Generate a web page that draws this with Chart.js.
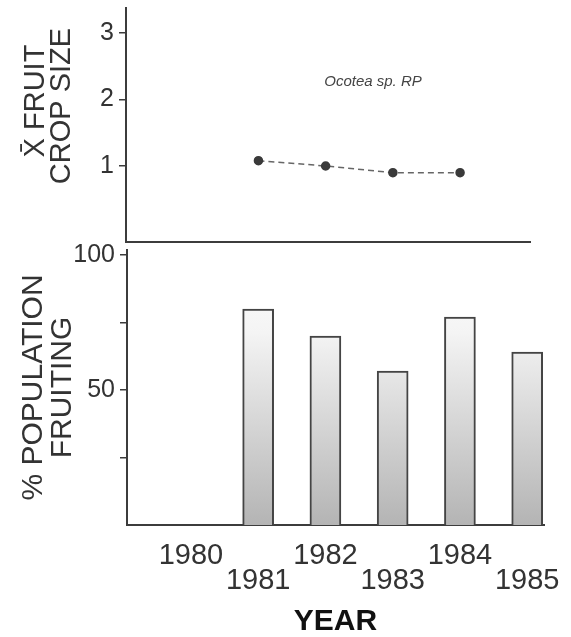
<!DOCTYPE html>
<html>
<head>
<meta charset="utf-8">
<script src="https://cdn.jsdelivr.net/npm/chart.js@4.4.1/dist/chart.umd.min.js"></script>
<style>
    html, body { margin: 0; padding: 0; background: #fff; }
    #wrap { position: relative; width: 571px; height: 637px; }
    #topBox { position: absolute; left: 0; top: 0; }
    #botBox { position: absolute; left: 0; top: 226px; }
</style>
</head>
<body>
<div id="wrap">
    <div id="topBox"><canvas id="cropChart" width="571" height="246"></canvas></div>
    <div id="botBox"><canvas id="fruitChart" width="571" height="411"></canvas></div>
</div>
<script>
// Chart data
const cropYears = [1981, 1982, 1983, 1984];
const cropSize = [1.08, 1.0, 0.9, 0.9];
const fruitYears = [1981, 1982, 1983, 1984, 1985];
const pctFruiting = [80, 70, 57, 77, 64];
const yearTicks = [1980, 1981, 1982, 1983, 1984, 1985];
const cropTicks = [1, 2, 3];
const pctTicks = [25, 50, 75, 100];
const pctTickLabels = ['', '50', '', '100'];

Chart.defaults.font.family = '"Liberation Sans", Arial, sans-serif';
Chart.defaults.color = '#333';

const inkColor = '#3c3c3c';

// draws free text (rotated axis title, species label)
const extraText = {
    id: 'extraText',
    afterDraw(chart, args, opts) {
        const ctx = chart.ctx;
        (opts.items || []).forEach(t => {
            ctx.save();
            ctx.translate(t.x, t.y);
            ctx.rotate(t.rotate || 0);
            ctx.font = t.font;
            ctx.fillStyle = t.color || '#333';
            ctx.textAlign = 'center';
            ctx.textBaseline = 'middle';
            ctx.fillText(t.text, 0, 0);
            ctx.restore();
        });
    }
};

function setTicks(list) {
    return scale => { scale.ticks = list.map(v => ({ value: v })); };
}

// fixed axis sizes, no extra edge padding for end labels
function fixWidth(w) {
    return s => { s.width = w; s.paddingTop = 0; s.paddingBottom = 0; };
}
function fixHeight(h) {
    return s => { s.height = h; s.paddingLeft = 0; s.paddingRight = 0; };
}

function barFill(context) {
    const area = context.chart.chartArea;
    if (!area) return '#ddd';
    const g = context.chart.ctx.createLinearGradient(0, area.top, 0, area.bottom);
    g.addColorStop(0, '#ffffff');
    g.addColorStop(0.3, '#f4f4f4');
    g.addColorStop(1, '#b4b4b4');
    return g;
}

// Top panel - mean fruit crop size
new Chart(document.getElementById('cropChart'), {
    type: 'line',
    data: {
        datasets: [{
            data: cropYears.map((x, i) => ({ x: x, y: cropSize[i] })),
            borderColor: '#666',
            borderWidth: 1.5,
            borderDash: [6, 4],
            pointRadius: 4,
            pointBackgroundColor: '#3a3a3a',
            pointBorderColor: '#3a3a3a',
            tension: 0
        }]
    },
    options: {
        responsive: false,
        animation: false,
        layout: { autoPadding: false, padding: { top: 8, right: 41, left: 0, bottom: 0 } },
        scales: {
            x: {
                type: 'linear',
                offset: false,
                min: 1979.03,
                max: 1985.04,
                afterBuildTicks: setTicks(yearTicks),
                ticks: { display: false },
                grid: { display: false },
                border: { color: inkColor, width: 2 },
                afterFit: fixHeight(4)
            },
            y: {
                min: -0.143,
                max: 3.376,
                afterBuildTicks: setTicks(cropTicks),
                ticks: { font: { size: 25 }, padding: 5 },
                grid: { drawOnChartArea: false, tickLength: 7, color: inkColor, lineWidth: 1.5 },
                border: { color: inkColor, width: 2 },
                afterFit: fixWidth(126)
            }
        },
        plugins: {
            legend: { display: false },
            tooltip: { enabled: false },
            extraText: {
                items: [
                    { text: 'X\u0304 FRUIT', x: 36, y: 101, rotate: -Math.PI / 2, font: '29px "Liberation Sans"' },
                    { text: 'CROP SIZE', x: 62, y: 106, rotate: -Math.PI / 2, font: '29px "Liberation Sans"' },
                    { text: 'Ocotea sp. RP', x: 373, y: 82, font: 'italic 15px "Liberation Sans"', color: '#444' }
                ]
            }
        }
    },
    plugins: [extraText]
});

// Bottom panel - % population fruiting
new Chart(document.getElementById('fruitChart'), {
    type: 'bar',
    data: {
        datasets: [{
            data: fruitYears.map((x, i) => ({ x: x, y: pctFruiting[i] })),
            barThickness: 31,
            borderWidth: 2,
            borderColor: '#444',
            backgroundColor: barFill
        }]
    },
    options: {
        responsive: false,
        animation: false,
        layout: { autoPadding: false, padding: { top: 24, right: 27, left: 0, bottom: 0 } },
        scales: {
            x: {
                type: 'linear',
                offset: false,
                min: 1979.05,
                max: 1985.25,
                afterBuildTicks: setTicks(yearTicks),
                ticks: {
                    autoSkip: false,
                    maxRotation: 0,
                    padding: 10,
                    font: { size: 29, lineHeight: 0.87 },
                    callback: v => ((v - 1980) % 2 === 0 ? [String(v), ''] : ['', String(v)])
                },
                grid: { display: false },
                border: { color: inkColor, width: 2 },
                title: {
                    display: true,
                    text: 'YEAR',
                    color: '#111',
                    font: { size: 30, weight: 'bold', lineHeight: 1 },
                    padding: { top: 0, bottom: 0 }
                },
                afterFit: fixHeight(112)
            },
            y: {
                min: 0,
                max: 101.85,
                afterBuildTicks: setTicks(pctTicks),
                ticks: {
                    font: { size: 25 },
                    padding: 5,
                    callback: (v, i) => pctTickLabels[i]
                },
                grid: { drawOnChartArea: false, tickLength: 7, color: inkColor, lineWidth: 1.5 },
                border: { color: inkColor, width: 2 },
                title: {
                    display: true,
                    text: ['% POPULATION', 'FRUITING'],
                    font: { size: 30, lineHeight: 0.97 },
                    padding: { top: 19.5, bottom: 0 }
                },
                afterFit: fixWidth(127)
            }
        },
        plugins: {
            legend: { display: false },
            tooltip: { enabled: false }
        }
    }
});
</script>
</body>
</html>
